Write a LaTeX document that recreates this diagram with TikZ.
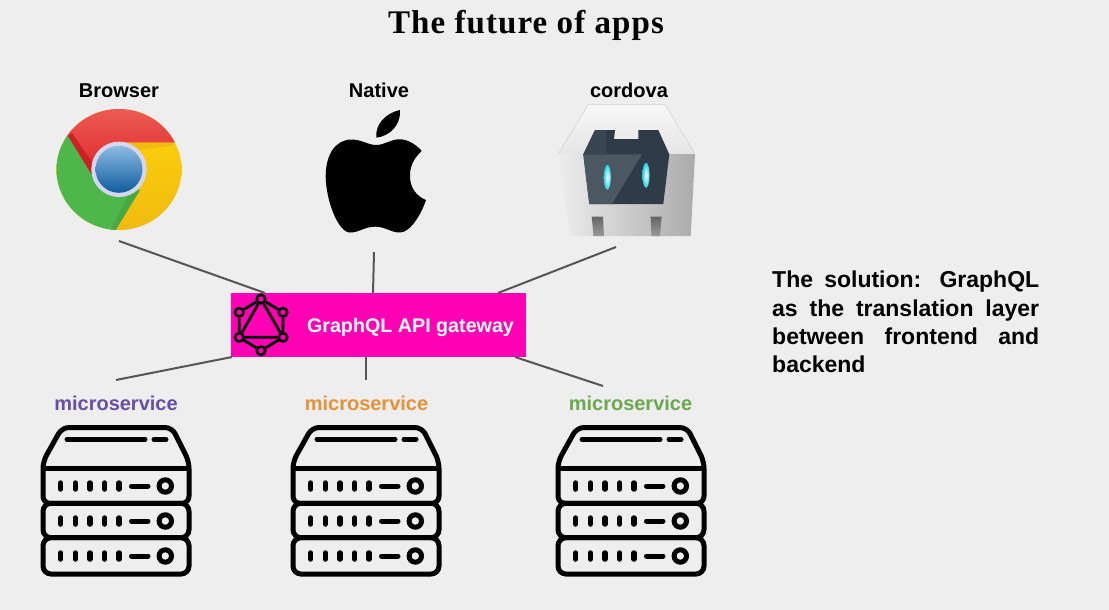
\documentclass[tikz,border=0pt]{standalone}
\usepackage{fontspec}
\setmainfont{Liberation Sans}
\newfontfamily\titlefont[LetterSpace=3.3]{Liberation Serif}
\definecolor{bgGrey}{HTML}{EEEEEE}
\definecolor{linkGrey}{HTML}{555555}
\definecolor{gwPink}{HTML}{FF00B4}
\definecolor{msPurple}{HTML}{674EA7}
\definecolor{msOrange}{HTML}{E69138}
\definecolor{msGreen}{HTML}{6AA84F}
\definecolor{chRedTop}{HTML}{EE6A5E}
\definecolor{chRedLow}{HTML}{E0252B}
\definecolor{chGreen}{HTML}{4DB74C}
\definecolor{chYelTop}{HTML}{FFD50A}
\definecolor{chYelLow}{HTML}{F0BA10}
\definecolor{chBlueTop}{HTML}{8DBBE2}
\definecolor{chBlueMid}{HTML}{3B80C2}
\definecolor{chBlueLow}{HTML}{0F5C9E}
\definecolor{cdDark}{HTML}{2F3B47}
\definecolor{cdLight}{HTML}{4B5761}
\definecolor{cdEye}{HTML}{22CFE2}
\tikzset{
  serverpic/.pic={
    \draw[line width=5pt, line join=round, rounded corners=7pt]
      (-54,-72.5) -- (56,-72.5) -- (73,-38.5) -- (73,3.3) -- (-73,3.3) -- (-73,-38.5) -- cycle;
    \draw[line width=5pt] (-73,-31.7) -- (73,-31.7);
    \draw[line width=5pt, rounded corners=8pt] (-73,3.3) rectangle (73,37.7);
    \draw[line width=5pt, rounded corners=8pt] (-73,37.7) rectangle (73,74);
    \draw[line width=5pt, line cap=round] (-49,-60.7) -- (29,-60.7) (38,-60.7) -- (50,-60.7);
    \foreach \rowy in {-14,21,56} {
      \foreach \dotx in {-55.3,-40.7,-26,-11.3,3}
        \draw[line width=5.5pt, line cap=round] (\dotx,\rowy-3) -- (\dotx,\rowy+3);
      \draw[line width=5pt, line cap=round] (15.5,\rowy) -- (32,\rowy);
      \draw[line width=5pt] (49.3,\rowy) circle (6.2);
    }
  }
}
\begin{document}
\begin{tikzpicture}[
  x=1pt, y=-1pt,
  title/.style={font=\titlefont\fontsize{33}{38}\selectfont\bfseries, inner sep=0pt},
  lbl/.style={font=\fontsize{20}{24}\selectfont\bfseries, inner sep=0pt},
  link/.style={draw=linkGrey, line width=2pt},
  qledge/.style={line width=2.8pt},
  qlnode/.style={circle, draw, fill=gwPink, line width=2.6pt, minimum size=8.5pt, inner sep=0pt},
  gateway/.style={fill=gwPink, minimum width=295pt, minimum height=64pt, inner sep=0pt}]
  \useasboundingbox (0,0) rectangle (1109,610);
  \fill[bgGrey] (0,0) rectangle (1109,610);

  \node[title] (title) at (526,25) {The future of apps};

  \node[lbl] (browser) at (119,90.5) {Browser};
  \node[lbl] (native)  at (379,90) {Native};
  \node[lbl] (cordova) at (629,90) {cordova};

  \node[lbl, text=msPurple] (ms1) at (116,403) {microservice};
  \node[lbl, text=msOrange] (ms2) at (366.5,403) {microservice};
  \node[lbl, text=msGreen]  (ms3) at (630.5,403) {microservice};

  \coordinate (browserEnd) at (119,241);
  \coordinate (nativeEnd)  at (374,252);
  \coordinate (cordovaEnd) at (616,247);
  \coordinate (ms1End) at (116,380);
  \coordinate (ms2End) at (366,380);
  \coordinate (ms3End) at (603,386);

  \node[gateway] (gw) at (378.5,325) {};
  \node[lbl, text=white, font=\fontsize{19.7}{24}\selectfont\bfseries] (gwText) at (410.5,327) {GraphQL API gateway};
  \coordinate (gwBrowser) at (265,293);
  \coordinate (gwNative)  at (373,293);
  \coordinate (gwCordova) at (498,293);
  \coordinate (gwMs1) at (232,357);
  \coordinate (gwMs2) at (366,357);
  \coordinate (gwMs3) at (515,357);

  \draw[link] (browserEnd) -- (gwBrowser);
  \draw[link] (nativeEnd)  -- (gwNative);
  \draw[link] (cordovaEnd) -- (gwCordova);
  \draw[link] (ms1End) -- (gwMs1);
  \draw[link] (ms2End) -- (gwMs2);
  \draw[link] (ms3End) -- (gwMs3);

  % chrome
  \begin{scope}
    \clip (119,169.5) ellipse (62.5 and 60.5);
    \shade[top color=chYelTop, middle color=chYelTop, bottom color=chYelLow] (50,100) rectangle (190,235);
    \shade[top color=chRedTop, bottom color=chRedLow]
      (92.3,176) -- (67.7,136) -- (40,90) -- (200,90) -- (175,142.7) -- (119,142.7) -- cycle;
    \fill[chRedLow!90!black] (92.3,176) -- (67.7,136) -- (72,133) -- (96,168) -- cycle;
    \fill[chGreen] (92.3,176) -- (67.7,136) -- (40,120) -- (40,240) -- (115,231) -- (140,190) -- cycle;
    \fill[chGreen!92!black] (115,231) -- (140,190) -- (128,196) -- (110,231) -- cycle;
    \fill[chYelLow] (119,142.7) -- (175,142.7) -- (172,146) -- (135,150) -- cycle;
  \end{scope}
  \fill[bgGrey!90!blue] (119,169.3) circle (27.7);
  \shade[top color=chBlueTop, middle color=chBlueMid, bottom color=chBlueLow] (119,169.3) circle (23.5);

  % apple
  \fill[black] (376,145) .. controls (368,145) and (362,139.5) .. (351,139.5)
    .. controls (335,140) and (325.5,155) .. (325.7,177)
    .. controls (326,200) and (338,232.5) .. (350,232.5)
    .. controls (360,232.5) and (364,226.7) .. (375,226.7)
    .. controls (386,226.7) and (390,232.5) .. (400,232.5)
    .. controls (410,232.5) and (421,215) .. (426,200)
    .. controls (416,196) and (409.5,187) .. (410,175)
    .. controls (410,165) and (415,157) .. (421.7,151)
    .. controls (415,143) and (406,139.3) .. (400,139.3)
    .. controls (390,139.3) and (385,145) .. (376,145) -- cycle;
  \fill[black] (400,110) .. controls (386,113) and (375,124) .. (376.3,137.7)
    .. controls (390,136) and (401,125) .. (400,110) -- cycle;

  % cordova
  \shade[top color=black!3, bottom color=black!10]
    (588.3,104.3) -- (665,104.3) -- (695,154) -- (558.3,154) -- cycle;
  \draw[black!18, line width=.5pt] (558.3,154) -- (588.3,104.3) -- (665,104.3) -- (695,154);
  \shade[left color=black!7, right color=black!33]
    (558.3,154) -- (695,154) -- (690.7,236) -- (570.7,236) -- cycle;
  \shade[top color=black!60, bottom color=black!40] (591.7,216.7) -- (603,216.7) -- (604,236) -- (593.5,236) -- cycle;
  \shade[top color=black!60, bottom color=black!40] (650.7,216.7) -- (661.7,216.7) -- (660,236) -- (651.5,236) -- cycle;
  \fill[cdDark] (595,130) -- (615,130) -- (614,139) -- (638.3,139) -- (638.3,130) -- (658.3,130)
    -- (669.3,154.3) -- (663.3,204) -- (589.3,204) -- (583.3,154.3) -- cycle;
  \fill[cdLight] (583.3,154.3) -- (642,154.3) -- (612,204) -- (589.3,204) -- cycle;
  \fill[cdDark!95!white] (595,130) -- (606,130) -- (606,154.3) -- (583.3,154.3) -- cycle;
  \shade[inner color=white, outer color=cdEye] (607.3,177.3) ellipse (3.6 and 12.5);
  \shade[inner color=white, outer color=cdEye] (646,175.3) ellipse (3.6 and 12.5);

  % graphql logo
  \node[qlnode] (q1) at (261,299) {};
  \node[qlnode] (q2) at (283,312.3) {};
  \node[qlnode] (q3) at (283,337.3) {};
  \node[qlnode] (q4) at (261,350.7) {};
  \node[qlnode] (q5) at (239.3,337.3) {};
  \node[qlnode] (q6) at (239.3,312.3) {};
  \draw[qledge] (q1) -- (q2) -- (q3) -- (q4) -- (q5) -- (q6) -- (q1);
  \draw[qledge] (q1) -- (q3) -- (q5) -- (q1);

  % servers
  \pic at (116,500) {serverpic};
  \pic at (366,500) {serverpic};
  \pic at (631,500) {serverpic};

  \node[inner sep=0pt, text width=267pt, align=justify, anchor=north west,
    font=\fontsize{23}{28.3}\selectfont\bfseries] (solution) at (772,271)
    {The solution: GraphQL\linebreak as the translation layer\linebreak between frontend and\linebreak backend};
\end{tikzpicture}
\end{document}
